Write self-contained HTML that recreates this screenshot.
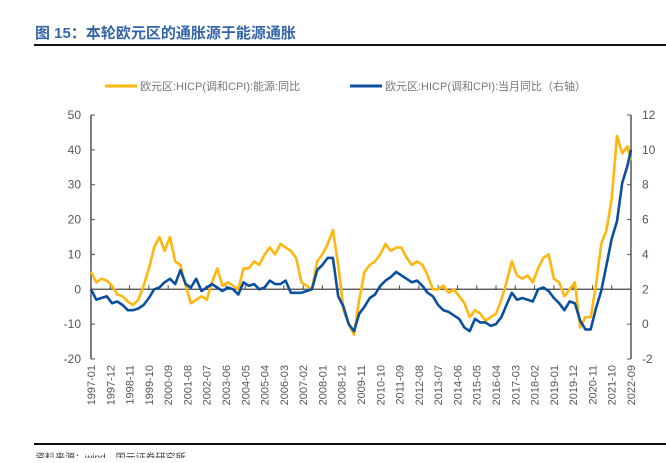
<!DOCTYPE html>
<html><head><meta charset="utf-8"><style>
body{margin:0;width:666px;height:458px;background:#fff;overflow:hidden;font-family:"Liberation Sans","Noto Sans CJK SC",sans-serif}
</style></head><body>
<svg width="666" height="458" xmlns="http://www.w3.org/2000/svg" id="svg">
<text x="35" y="38" font-size="15" font-weight="bold" fill="#3465a8" font-family="'Liberation Sans','Noto Sans CJK SC',sans-serif">图 15：本轮欧元区的通胀源于能源通胀</text>
<rect x="34" y="44" width="632" height="2" fill="#111"/>
<rect x="34" y="443" width="632" height="2" fill="#111"/>
<text x="35" y="461" font-size="10" fill="#444">资料来源：wind，国元证券研究所</text>
<g font-size="11" fill="#777">
<line x1="105" y1="86" x2="137" y2="86" stroke="#ffb70f" stroke-width="3"/>
<text x="140" y="90">欧元区:HICP(调和CPI):能源:同比</text>
<line x1="350" y1="86" x2="382" y2="86" stroke="#0b4fa0" stroke-width="3"/>
<text x="385" y="90">欧元区:HICP(调和CPI):当月同比（右轴）</text>
</g>
<g id="axes"></g>
<g id="series"></g>
</svg>
<script>
const xLabels=["1997-01","1997-12","1998-11","1999-10","2000-09","2001-08","2002-07","2003-06","2004-05","2005-04","2006-03","2007-02","2008-01","2008-12","2009-11","2010-10","2011-09","2012-08","2013-07","2014-06","2015-05","2016-04","2017-03","2018-02","2019-01","2019-12","2020-11","2021-10","2022-09"];
const leftTicks=[50,40,30,20,10,0,-10,-20];
const rightTicks=[12,10,8,6,4,2,0,-2];
// quarterly values starting 1997-01
const energyYoY=[5,2,3,2.5, 1,-1.5,-2,-3.5, -4.5,-3,1,6, 12,15,11,15, 8,7,1,-4, -3,-2,-3,2, 6,1,2,1, 0,6,6,8, 7,10,12,10, 13,12,11,9, 2,1,0,8, 10,13,17,7, -6,-10,-13,-3, 5,7,8,10, 13,11,12,12, 9,7,8,7, 4,0,0,1, -1,0,-2,-4, -8,-6,-7,-9, -8,-7,-3,2, 8,4,3,4, 2,6,9,10, 3,2,-2,0, 2,-11,-8,-8, 1,13,17,26, 44,39,41,37];
const hicpYoY=[2.0,1.4,1.5,1.6, 1.2,1.3,1.1,0.8, 0.8,0.9,1.1,1.5, 2.0,2.1,2.4,2.6, 2.3,3.1,2.3,2.1, 2.6,1.9,2.1,2.3, 2.1,1.9,2.1,2.0, 1.7,2.4,2.2,2.3, 2.0,2.1,2.5,2.3, 2.3,2.5,1.8,1.8, 1.8,1.9,2.0,3.1, 3.4,3.8,3.8,1.6, 1.0,0.0,-0.4,0.6, 1.0,1.5,1.7,2.2, 2.5,2.7,3.0,2.8, 2.6,2.4,2.5,2.2, 1.8,1.6,1.1,0.8, 0.7,0.5,0.3,-0.2, -0.4,0.3,0.1,0.1, -0.1,0.0,0.4,1.1, 1.8,1.4,1.5,1.4, 1.3,2.0,2.1,1.9, 1.5,1.2,0.8,1.3, 1.2,0.2,-0.3,-0.3, 0.9,1.9,3.4,4.9, 5.9,8.1,9.1,10.0];
const NS="http://www.w3.org/2000/svg";
const X0=91,X1=631,Y0=115,Y1=359,MONTHS=308;
const xS=m=>X0+(X1-X0)*Math.min(m,MONTHS)/MONTHS;
const yL=v=>Y1-(v+20)/70*(Y1-Y0);
const yR=v=>Y1-(v+2)/14*(Y1-Y0);
function mk(tag,attrs,parent){const e=document.createElementNS(NS,tag);for(const k in attrs)e.setAttribute(k,attrs[k]);parent.appendChild(e);return e;}
const ax=document.getElementById('axes');
let e=mk('line',{x1:X0,y1:Y0,x2:X0,y2:Y1,stroke:'#555','stroke-width':1.5},ax);


e=mk('line',{x1:X1,y1:Y0,x2:X1,y2:Y1,stroke:'#555','stroke-width':1.5},ax);


e=mk('line',{x1:X0,y1:yL(0),x2:X1,y2:yL(0),stroke:'#444','stroke-width':1.2},ax);


leftTicks.forEach(v=>{const y=yL(v);
 let t=mk('line',{x1:X0,y1:y,x2:X0+4,y2:y,stroke:'#555'},ax);
 
 
 let l=mk('text',{x:X0-10,y:y+4,'font-size':12,fill:'#555','text-anchor':'end'},ax);l.textContent=v;
 
 });
rightTicks.forEach(v=>{const y=yR(v);
 let t=mk('line',{x1:X1-4,y1:y,x2:X1,y2:y,stroke:'#555'},ax);
 
 
 let l=mk('text',{x:X1+11,y:y+4,'font-size':12,fill:'#555'},ax);l.textContent=v;
 
 });
xLabels.forEach((s,i)=>{const x=xS(i*11);
 let t=mk('line',{x1:x,y1:yL(0),x2:x,y2:yL(0)-4,stroke:'#444'},ax);
 
 
 let l=mk('text',{x:0,y:0,'font-size':11,fill:'#555','text-anchor':'end',transform:`translate(${x+4},365) rotate(-90)`},ax);l.textContent=s;
 
 });
const sg=document.getElementById('series');
function path(arr,ys,color,name){const d=arr.map((v,i)=>(i?'L':'M')+xS(i*3).toFixed(1)+','+ys(v).toFixed(1)).join('');
 const p=mk('path',{d:d,fill:'none',stroke:color,'stroke-width':2.6,'stroke-linejoin':'round'},sg);
 
 }
path(energyYoY,yL,'#ffb70f','energy-yoy-line');
path(hicpYoY,yR,'#0b4fa0','hicp-yoy-line');
</script>
</body></html>
